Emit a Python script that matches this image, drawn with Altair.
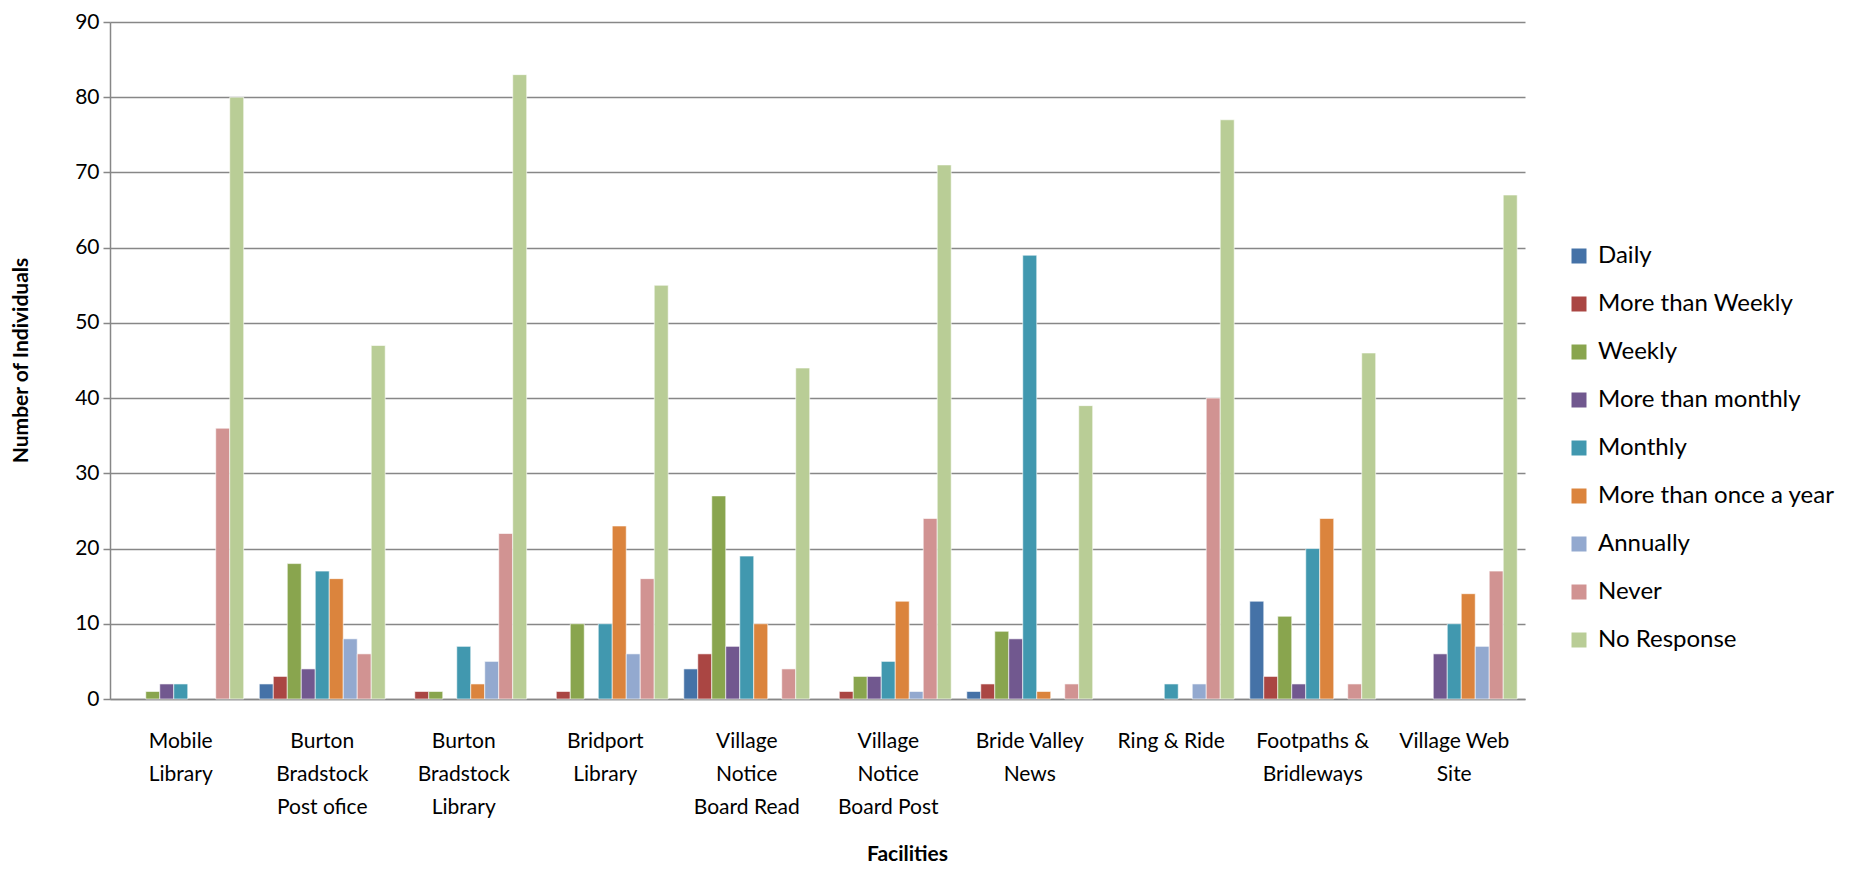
import altair as alt
import pandas as pd

facilities = [
    "Mobile Library", "Burton Bradstock Post ofice", "Burton Bradstock Library",
    "Bridport Library", "Village Notice Board Read", "Village Notice Board Post",
    "Bride Valley News", "Ring & Ride", "Footpaths & Bridleways", "Village Web Site",
]
label_lines = [
    ["Mobile", "Library"], ["Burton", "Bradstock", "Post ofice"], ["Burton", "Bradstock", "Library"],
    ["Bridport", "Library"], ["Village", "Notice", "Board Read"], ["Village", "Notice", "Board Post"],
    ["Bride Valley", "News"], ["Ring & Ride"], ["Footpaths &", "Bridleways"], ["Village Web", "Site"],
]
frequencies = ["Daily", "More than Weekly", "Weekly", "More than monthly", "Monthly",
               "More than once a year", "Annually", "Never", "No Response"]
colors = ["#4572A7", "#AA4643", "#89A54E", "#71588F", "#4198AF",
          "#DB843D", "#93A9CF", "#D19392", "#B9CD96"]

daily = [0, 2, 0, 0, 4, 0, 1, 0, 13, 0]
more_than_weekly = [0, 3, 1, 1, 6, 1, 2, 0, 3, 0]
weekly = [1, 18, 1, 10, 27, 3, 9, 0, 11, 0]
more_than_monthly = [2, 4, 0, 0, 7, 3, 8, 0, 2, 6]
monthly = [2, 17, 7, 10, 19, 5, 59, 2, 20, 10]
more_than_once_a_year = [0, 16, 2, 23, 10, 13, 1, 0, 24, 14]
annually = [0, 8, 5, 6, 0, 1, 0, 2, 0, 7]
never = [36, 6, 22, 16, 4, 24, 2, 40, 2, 17]
no_response = [80, 47, 83, 55, 44, 71, 39, 77, 46, 67]

series = [daily, more_than_weekly, weekly, more_than_monthly, monthly,
          more_than_once_a_year, annually, never, no_response]

rows = []
for f, vals in zip(frequencies, series):
    for fac, v in zip(facilities, vals):
        rows.append({"Facility": fac, "Frequency": f, "Count": v})
df = pd.DataFrame(rows)

def js_str(s):
    return "'" + s.replace("'", "\\'") + "'"

expr = "datum.value"
for fac, lines in reversed(list(zip(facilities, label_lines))):
    arr = "[" + ",".join(js_str(l) for l in lines) + "]"
    expr = f"datum.value == {js_str(fac)} ? {arr} : ({expr})"

FONT = "Lato"
grid = "#878787"

chart = alt.Chart(df).mark_bar(stroke="white", strokeWidth=0.6).encode(
    x=alt.X("Facility:N", sort=facilities,
            scale=alt.Scale(paddingInner=0.11, paddingOuter=0.055),
            axis=alt.Axis(title="Facilities", labelAngle=0, labelExpr=expr,
                          ticks=False, labelPadding=31, labelLineHeight=33,
                          labelFontSize=21, labelFont=FONT, labelColor="#000000",
                          domainColor=grid, domainWidth=1.5,
                          titleFont=FONT, titleFontSize=21, titleFontWeight="bold",
                          titleColor="#000000", titleX=797, titleY=155,
                          titleBaseline="middle", titleAlign="center")),
    xOffset=alt.XOffset("Frequency:N", sort=frequencies,
                        scale=alt.Scale(paddingInner=0, paddingOuter=0)),
    y=alt.Y("Count:Q", scale=alt.Scale(domain=[0, 90], nice=False),
            axis=alt.Axis(title="Number of Individuals", values=list(range(0, 91, 10)),
                          tickSize=7, tickColor=grid, tickWidth=1.5,
                          labelPadding=4, labelFontSize=21, labelFont=FONT,
                          labelColor="#000000", domainColor=grid, domainWidth=1.5,
                          gridColor=grid, gridWidth=1.5,
                          titleFont=FONT, titleFontSize=21, titleFontWeight="bold",
                          titleColor="#000000", titleX=-89, titleY=338,
                          titleAngle=-90, titleBaseline="middle", titleAlign="center")),
    color=alt.Color("Frequency:N", sort=frequencies,
                    scale=alt.Scale(domain=frequencies, range=colors),
                    legend=alt.Legend(title=None, orient="none", legendX=1457, legendY=222,
                                      symbolType="square", symbolSize=225,
                                      symbolStrokeWidth=0, labelFont=FONT,
                                      labelFontSize=24, labelColor="#000000",
                                      labelOffset=7, rowPadding=24, labelLimit=400)),
).transform_filter(
    "datum.Count > 0"
).properties(
    width=1415, height=677,
    autosize=alt.AutoSizeParams(type="none"),
    padding={"left": 102, "top": 14, "right": 321, "bottom": 171},
).configure(background="white").configure_view(stroke=None)

chart.save("out.html", embed_options={"renderer": "svg", "actions": False})
